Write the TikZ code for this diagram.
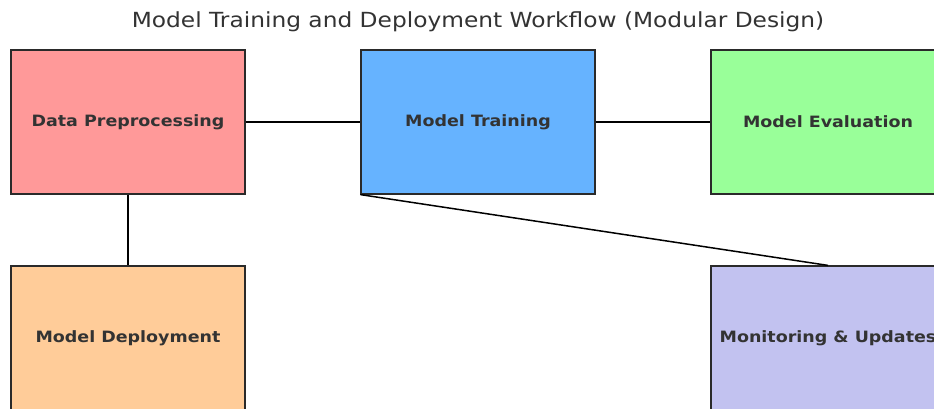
\documentclass[tikz,border=0pt]{standalone}
\usepackage{fontspec}
\newfontfamily\titlefont[FakeStretch=1.12]{DejaVu Sans}
\newfontfamily\boxfont[FakeStretch=1.12]{DejaVu Sans Bold}
\definecolor{txt}{HTML}{333333}
\definecolor{cdp}{HTML}{FF9999}
\definecolor{cmt}{HTML}{66B3FF}
\definecolor{cme}{HTML}{99FF99}
\definecolor{cmd}{HTML}{FFCC99}
\definecolor{cmon}{HTML}{C2C2F0}
\definecolor{edge}{HTML}{2A2A2A}
\tikzset{
  module/.style={draw=edge, line width=1.2pt, minimum width=234pt, minimum height=144pt,
    inner sep=0pt, text=txt, font=\boxfont\fontsize{15.6}{18}\selectfont},
  link/.style={draw=black, line width=1.5pt}
}
\begin{document}
\begin{tikzpicture}[x=1pt,y=-1pt]
\useasboundingbox (0,0) rectangle (934,409);
\clip (0,0) rectangle (934,409);
\fill[white] (0,0) rectangle (934,409);
\node[text=txt, font=\titlefont\fontsize{20.8}{24}\selectfont] (title) at (478,21.5) {Model Training and Deployment Workflow (Modular Design)};
\node[module, fill=cdp] (dp) at (128,122) {Data Preprocessing};
\node[module, fill=cmt] (mt) at (478,122) {Model Training};
\node[module, fill=cme] (me) at (828,122) {Model Evaluation};
\node[module, fill=cmd] (md) at (128,338) {Model Deployment};
\node[module, fill=cmon] (mon) at (828,338) {Monitoring \& Updates};
\draw[link] (dp.east) -- (mt.west);
\draw[link] (mt.east) -- (me.west);
\draw[link] (dp.south) -- (md.north);
\draw[link] (mt.south west) -- (mon.north);
\end{tikzpicture}
\end{document}
